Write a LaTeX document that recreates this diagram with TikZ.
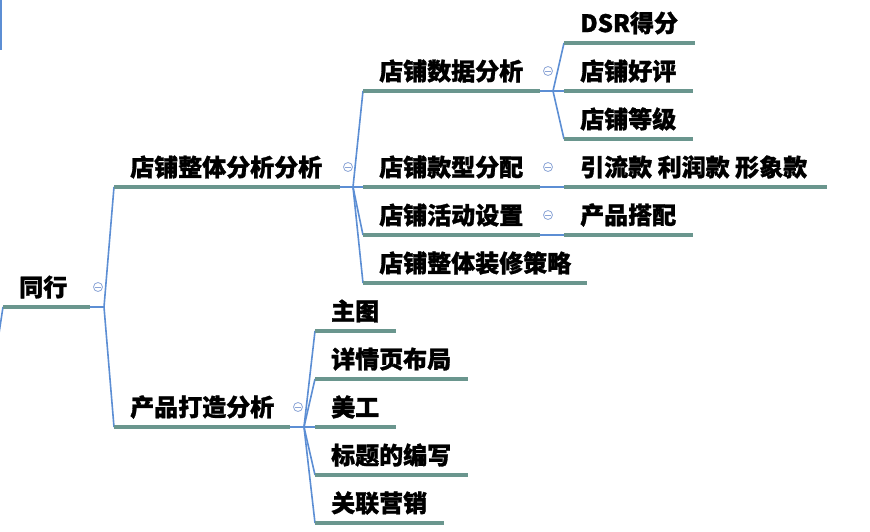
\documentclass[tikz,border=0pt]{standalone}
\usepackage{fontspec}
\setmainfont{Noto Sans CJK SC}[BoldFeatures={FakeBold=1.2}]
\definecolor{lineteal}{RGB}{106,150,142}
\definecolor{connblue}{RGB}{92,142,212}
\definecolor{foldblue}{RGB}{140,165,215}

% topic: name, left x, right x, underline y, label
\newcommand\mmtopic[5]{%
  \coordinate (#1-l) at (#2,#4);
  \coordinate (#1-r) at (#3,#4);
  \draw[uline] (#1-l) -- (#1-r);
  \node[topic] (#1) at (#2+16,#4-20) {#5};
}
% collapse marker next to a topic's right end
\newcommand\mmfold[1]{%
  \node[fold] (#1-fold) at ([xshift=8pt,yshift=20pt]#1-r) {};
}

\begin{document}
\begin{tikzpicture}[x=1pt,y=-1pt,
  topic/.style={anchor=west, inner sep=0pt, font=\fontsize{24}{28}\selectfont\bfseries},
  uline/.style={draw=lineteal, line width=3.5pt},
  conn/.style={draw=connblue, line width=1.6pt},
  fold/.style={circle, draw=foldblue, line width=0.8pt, minimum size=9pt, inner sep=0pt,
    path picture={\draw[foldblue, line width=0.8pt]
      ([xshift=-2.6pt]path picture bounding box.center) --
      ([xshift=2.6pt]path picture bounding box.center);}}
]
\clip (0,0) rectangle (870,532);
\fill[white] (0,0) rectangle (870,532);

% fork points
\coordinate (root-f) at (104,307);
\coordinate (A-f) at (353,187);
\coordinate (A1-f) at (553,91);
\coordinate (B-f) at (304,427);
\coordinate (up-f) at (0.8,-40);
\coordinate (up-e) at (0.8,50);
\coordinate (dn-f) at (-2,340);

% connectors (drawn below the underlines)
\draw[conn] (up-f) -- (up-e);
\draw[conn] (3,307) coordinate (root-l0) -- (dn-f);
\draw[conn] (90,307) -- (root-f);
\draw[conn] (root-f) -- (114,187);
\draw[conn] (root-f) -- (114,427);
\draw[conn] (340,187) -- (A-f);
\foreach \yy in {91,187,235,283} \draw[conn] (A-f) -- (363,\yy);
\draw[conn] (540,91) -- (A1-f);
\foreach \yy in {43,91,139} \draw[conn] (A1-f) -- (564,\yy);
\draw[conn] (540,187) -- (564,187);
\draw[conn] (540,235) -- (564,235);
\draw[conn] (290,427) -- (B-f);
\foreach \yy in {331,379,427,475,523} \draw[conn] (B-f) -- (315,\yy);

% topics
\mmtopic{root}{3}{90}{307}{同行}
\mmtopic{A}{114}{340}{187}{店铺整体分析分析}
\mmtopic{A1}{363}{540}{91}{店铺数据分析}
\mmtopic{A2}{363}{540}{187}{店铺款型分配}
\mmtopic{A3}{363}{540}{235}{店铺活动设置}
\mmtopic{A4}{363}{587}{283}{店铺整体装修策略}
\mmtopic{A11}{564}{695}{43}{DSR得分}
\mmtopic{A12}{564}{693}{91}{店铺好评}
\mmtopic{A13}{564}{693}{139}{店铺等级}
\mmtopic{A21}{564}{827}{187}{引流款 利润款 形象款}
\mmtopic{A31}{564}{693}{235}{产品搭配}
\mmtopic{B}{114}{290}{427}{产品打造分析}
\mmtopic{B1}{315}{396}{331}{主图}
\mmtopic{B2}{315}{468}{379}{详情页布局}
\mmtopic{B3}{315}{396}{427}{美工}
\mmtopic{B4}{315}{468}{475}{标题的编写}
\mmtopic{B5}{315}{444}{523}{关联营销}

% collapse markers
\mmfold{root}
\mmfold{A}
\mmfold{A1}
\mmfold{A2}
\mmfold{A3}
\mmfold{B}
\end{tikzpicture}
\end{document}
